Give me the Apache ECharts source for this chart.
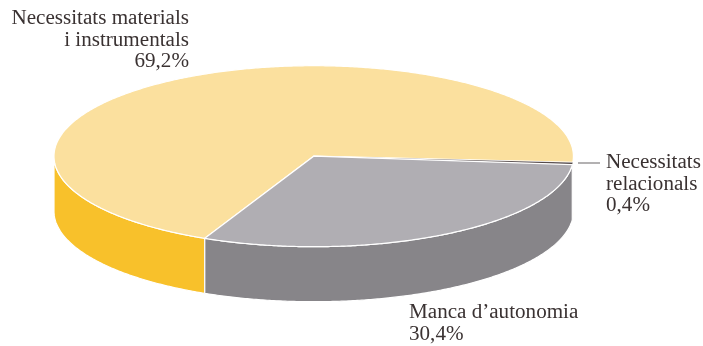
<!DOCTYPE html>
<html>
<head>
<meta charset="utf-8">
<script src="https://cdn.jsdelivr.net/npm/echarts@6/dist/echarts.min.js"></script>
<style>
  html, body { margin: 0; padding: 0; background: #fff; }
  #chart { width: 703px; height: 346px; }
</style>
</head>
<body>
<div id="chart"></div>
<script>
// Slice categories and shares (%), in clockwise drawing order
const categories = ['Necessitats materials\ni instrumentals', 'Necessitats\nrelacionals', 'Manca d\u2019autonomia'];
const values = [69.2, 0.4, 30.4];
const valueLabels = ['69,2%', '0,4%', '30,4%'];
const topColors = ['#FBE09E', '#4A3F3F', '#B0AEB3'];
const sideColors = ['#F8C12B', '#3E3535', '#878589'];

// Ellipse geometry of the tilted disc
const CX = 313.7, CY = 156.2, RX = 259.7, RY = 90.5, DEPTH = 55;
const START_ANGLE = 114.8; // degrees, clockwise from 3 o'clock

const total = values.reduce((s, v) => s + v, 0);
const spans = [];
let acc = START_ANGLE;
values.forEach(v => {
  const a0 = acc, a1 = acc + v / total * 360;
  spans.push([a0, a1]);
  acc = a1;
});

function pt(deg, dy) {
  const r = deg * Math.PI / 180;
  return [CX + RX * Math.cos(r), CY + RY * Math.sin(r) + (dy || 0)];
}
function arcPts(a0, a1, dy) {
  const out = [];
  const n = Math.max(2, Math.ceil(Math.abs(a1 - a0) / 0.5));
  for (let i = 0; i <= n; i++) out.push(pt(a0 + (a1 - a0) * i / n, dy));
  return out;
}

// Front (visible) wall pieces: parts of the slice inside [0,180] or [360,540]
function wallPieces(a0, a1) {
  const pieces = [];
  [[0, 180], [360, 540]].forEach(([lo, hi]) => {
    const s = Math.max(a0, lo), e = Math.min(a1, hi);
    if (e > s) pieces.push([s, e]);
  });
  return pieces;
}

const chart = echarts.init(document.getElementById('chart'), null, { renderer: 'canvas' });

const seriesData = values.map((v, i) => ({ name: categories[i], value: v }));

const LABEL_FONT = '20px "Liberation Serif"';
const LABEL_COLOR = '#3A3232';
const LABEL_STRETCH = 1.055;

const option = {
  animation: false,
  backgroundColor: '#ffffff',
  series: [
    {
      type: 'custom',
      coordinateSystem: 'none',
      z: 1,
      data: seriesData,
      renderItem: function (params, api) {
        const i = params.dataIndex;
        const [a0, a1] = spans[i];
        const children = wallPieces(a0, a1).map(([s, e]) => {
          const pts = arcPts(s, e, 0).concat(arcPts(e, s, DEPTH));
          return {
            type: 'polygon',
            shape: { points: pts },
            style: { fill: sideColors[i], stroke: '#ffffff', lineWidth: 1.2 }
          };
        });
        return { type: 'group', children: children };
      }
    },
    {
      type: 'custom',
      coordinateSystem: 'none',
      z: 2,
      data: seriesData,
      renderItem: function (params, api) {
        const i = params.dataIndex;
        const [a0, a1] = spans[i];
        const pts = [[CX, CY]].concat(arcPts(a0, a1, 0));
        return {
          type: 'polygon',
          shape: { points: pts },
          style: { fill: topColors[i], stroke: '#ffffff', lineWidth: values[i] < 2 ? 0.3 : 1.2 }
        };
      }
    }
  ],
  graphic: [
    {
      type: 'text', x: 189, y: 8, z: 10, scaleX: LABEL_STRETCH,
      style: {
        text: categories[0] + '\n' + valueLabels[0],
        align: 'right', verticalAlign: 'top',
        font: LABEL_FONT, lineHeight: 21.5, fill: LABEL_COLOR
      }
    },
    {
      type: 'line', z: 10,
      shape: { x1: 578, y1: 163, x2: 600, y2: 163 },
      style: { stroke: '#8A8788', lineWidth: 1.3 }
    },
    {
      type: 'text', x: 606, y: 152, z: 10, scaleX: LABEL_STRETCH,
      style: {
        text: categories[1] + '\n' + valueLabels[1],
        align: 'left', verticalAlign: 'top',
        font: LABEL_FONT, lineHeight: 21.5, fill: LABEL_COLOR
      }
    },
    {
      type: 'text', x: 409, y: 302, z: 10, scaleX: LABEL_STRETCH,
      style: {
        text: categories[2] + '\n' + valueLabels[2],
        align: 'left', verticalAlign: 'top',
        font: LABEL_FONT, lineHeight: 22, fill: LABEL_COLOR
      }
    }
  ]
};

chart.setOption(option);
</script>
</body>
</html>
